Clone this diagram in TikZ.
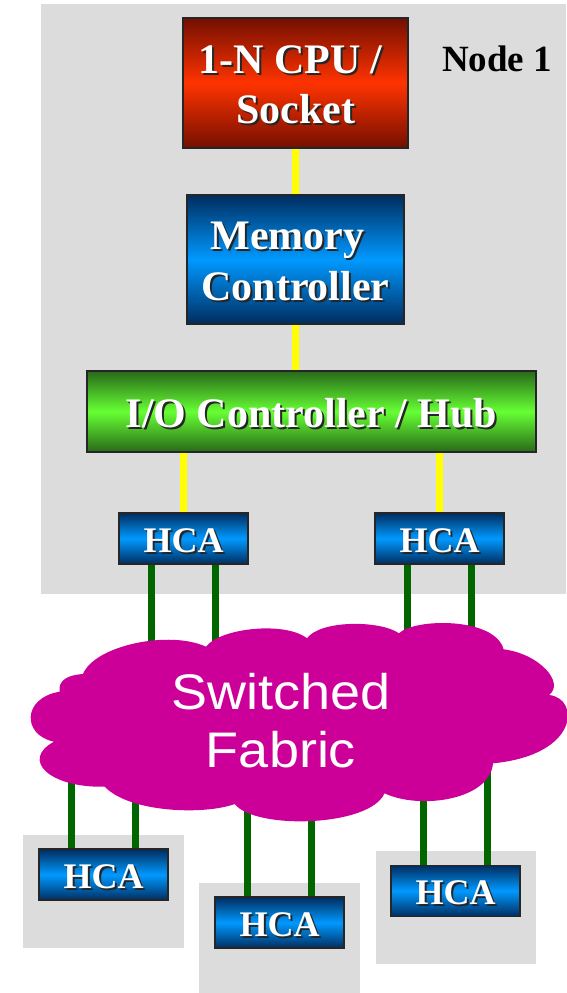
\documentclass[tikz,border=0pt]{standalone}
\usepackage{fontspec}
\setmainfont{Liberation Serif}
\newfontfamily\arialf{Liberation Sans}
\usetikzlibrary{calc}
\definecolor{gbg}{RGB}{220,220,220}
\definecolor{cpudark}{RGB}{115,15,0}
\definecolor{cpumid}{RGB}{255,51,0}
\definecolor{bluedark}{RGB}{0,45,95}
\definecolor{bluemid}{RGB}{0,153,255}
\definecolor{grndark}{RGB}{40,105,25}
\definecolor{grnmid}{RGB}{102,255,51}
\definecolor{yel}{RGB}{255,255,0}
\definecolor{wire}{RGB}{0,102,0}
\definecolor{fabcol}{RGB}{204,0,153}
\newcommand\shtxt[1]{\raisebox{-3pt}[\height][\depth]{\makebox[0pt][l]{\hspace{2pt}\raisebox{-2pt}{\color{black!85}#1}}#1}}
\newcommand\widetxt[1]{\scalebox{1.08}[1]{#1}}
\pgfdeclarelayer{bg}
\pgfdeclarelayer{links}
\pgfdeclarelayer{cloud}
\pgfsetlayers{bg,links,cloud,main}
\tikzset{
  box/.style={draw=black!85, line width=1.5, inner sep=0, text=white, align=center,
    font=\fontsize{42}{50.5}\selectfont\bfseries},
  cpubox/.style={box, top color=cpudark, bottom color=cpudark, middle color=cpumid},
  membox/.style={box, top color=bluedark, bottom color=bluedark, middle color=bluemid},
  iobox/.style={box, top color=grndark, bottom color=grndark, middle color=grnmid},
  hcabox/.style={membox, minimum width=129, minimum height=51,
    font=\fontsize{36}{43}\selectfont\bfseries},
  ylink/.style={draw=yel, line width=7},
  glink/.style={draw=wire, line width=7},
  graybg/.style={fill=gbg},
}
\begin{document}
\begin{tikzpicture}[x=1pt,y=-1pt]
\useasboundingbox (0,0) rectangle (566,993);
% boxes
\node[cpubox, minimum width=225, minimum height=130] (cpu) at (295.5,83)
  {\shtxt{1-N CPU /}\hspace*{10pt}\\\shtxt{Socket}};
\node[membox, minimum width=217, minimum height=129] (mem) at (295.5,259.5)
  {\shtxt{Memory}\hspace*{16pt}\\\shtxt{Controller}};
\node[iobox, minimum width=449, minimum height=81] (io) at (311.5,411.5)
  {\shtxt{I/O Controller / Hub}};
\node[hcabox] (hca1) at (183.5,538.5) {\shtxt{HCA}};
\node[hcabox] (hca2) at (439.5,538.5) {\shtxt{HCA}};
\node[hcabox] (hca3) at (103.5,874.7) {\shtxt{HCA}};
\node[hcabox] (hca4) at (279.5,922.7) {\shtxt{HCA}};
\node[hcabox] (hca5) at (455.5,890.8) {\shtxt{HCA}};
\node[anchor=base, font=\fontsize{37}{44}\selectfont\bfseries] (lbl) at (497,71) {Node 1};
\coordinate (fabc) at (281,730);
% gray backgrounds
\begin{pgfonlayer}{bg}
\fill[graybg] (40.5,4) rectangle (566,594);
\fill[graybg] (23,835) rectangle (184,947.7);
\fill[graybg] (199,882.7) rectangle (360,993);
\fill[graybg] (375.5,851) rectangle (536,964);
\end{pgfonlayer}
% links
\begin{pgfonlayer}{links}
\draw[ylink] (cpu.south) -- (mem.north);
\draw[ylink] (mem.south) -- (mem.south |- io.north);
\draw[ylink] (hca1.north |- io.south) -- (hca1.north);
\draw[ylink] (hca2.north |- io.south) -- (hca2.north);
\foreach \h in {hca1,hca2}{
  \coordinate (wa) at ($(\h.south)+(-32,0)$);
  \coordinate (wb) at ($(\h.south)+(32,0)$);
  \draw[glink] (wa) -- (wa |- fabc);
  \draw[glink] (wb) -- (wb |- fabc);
}
\foreach \h in {hca3,hca4,hca5}{
  \coordinate (wa) at ($(\h.north)+(-32,0)$);
  \coordinate (wb) at ($(\h.north)+(32,0)$);
  \draw[glink] (wa) -- (wa |- fabc);
  \draw[glink] (wb) -- (wb |- fabc);
}
\end{pgfonlayer}
% cloud
\begin{pgfonlayer}{cloud}
\fill[fabcol] (54,741.7) .. controls (22,735) and (22,698) .. (59.6,691.7)
 .. controls (58,680) and (68,675) .. (83,674)
 .. controls (95,645) and (170,630) .. (206,646.7)
 .. controls (220,628) and (285,621) .. (307,638.3)
 .. controls (320,620) and (380,620) .. (399,633.3)
 .. controls (415,618) and (495,617) .. (503.6,649.3)
 .. controls (540,654) and (565,683) .. (549,695)
 .. controls (580,698) and (580,755) .. (493,763.3)
 .. controls (490,800) and (420,810) .. (384.5,793.3)
 .. controls (370,827) and (255,830) .. (234.7,804)
 .. controls (205,815) and (130,813) .. (104.7,786.7)
 .. controls (50,788) and (20,760) .. (54,741.7) -- cycle;
\end{pgfonlayer}
\node[font=\arialf\fontsize{50}{58}\selectfont, text=white, align=center, inner sep=0] (fabric) at (281,721) {\widetxt{Switched}\\\widetxt{Fabric}};
\end{tikzpicture}
\end{document}
